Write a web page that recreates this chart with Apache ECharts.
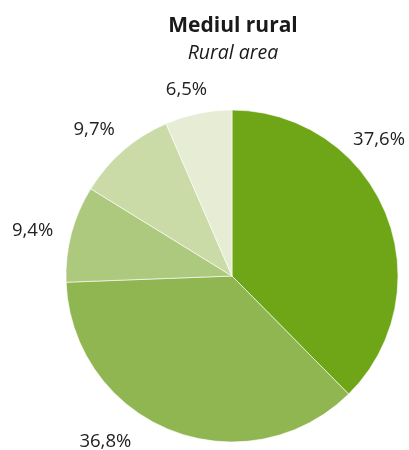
<!DOCTYPE html>
<html>
<head>
<meta charset="utf-8">
<script src="https://cdn.jsdelivr.net/npm/echarts@6/dist/echarts.min.js"></script>
<style>
  html, body { margin: 0; padding: 0; background: #fff; }
  #chart { width: 409px; height: 450px; }
</style>
</head>
<body>
<div id="chart"></div>
<script>
// Share of population by group, rural area (percent), clockwise from 12 o'clock
const shareLabels = ['37,6%', '36,8%', '9,4%', '9,7%', '6,5%'];
const shareValues = [37.6, 36.8, 9.4, 9.7, 6.5];
const sliceColors = ['#6fa617', '#8fb650', '#adc97e', '#cbdba8', '#e6edd4'];

// per-slice nudges for the outside labels (px)
const labelNudge = [[-43, -60], [-48, -20], [-1, 6], [-2, 5], [0, 10]];

const chart = echarts.init(document.getElementById('chart'));
chart.setOption({
  animation: false,
  title: {
    text: 'Mediul rural',
    subtext: 'Rural area',
    left: 228,
    textAlign: 'center',
    top: 11,
    itemGap: 6,
    textStyle: { fontFamily: 'Open Sans', fontWeight: 'bold', fontSize: 21, color: '#1a1a1a' },
    subtextStyle: { fontFamily: 'Open Sans', fontStyle: 'italic', fontSize: 19.5, color: '#1a1a1a' }
  },
  series: [{
    type: 'pie',
    center: [232, 276],
    radius: 166,
    startAngle: 90,
    clockwise: true,
    avoidLabelOverlap: false,
    itemStyle: { borderColor: '#ffffff', borderWidth: 0.6 },
    label: {
      show: true,
      position: 'outside',
      distance: 0,
      fontFamily: 'Open Sans',
      fontSize: 18.5,
      color: '#222',
      formatter: p => shareLabels[p.dataIndex]
    },
    labelLine: { show: false, length: 34, length2: 0 },
    labelLayout: p => ({
      align: 'center',
      verticalAlign: 'middle',
      dx: labelNudge[p.dataIndex][0],
      dy: labelNudge[p.dataIndex][1]
    }),
    emphasis: { disabled: true },
    data: shareValues.map((v, i) => ({ value: v, name: shareLabels[i], itemStyle: { color: sliceColors[i] } }))
  }]
});
</script>
</body>
</html>
